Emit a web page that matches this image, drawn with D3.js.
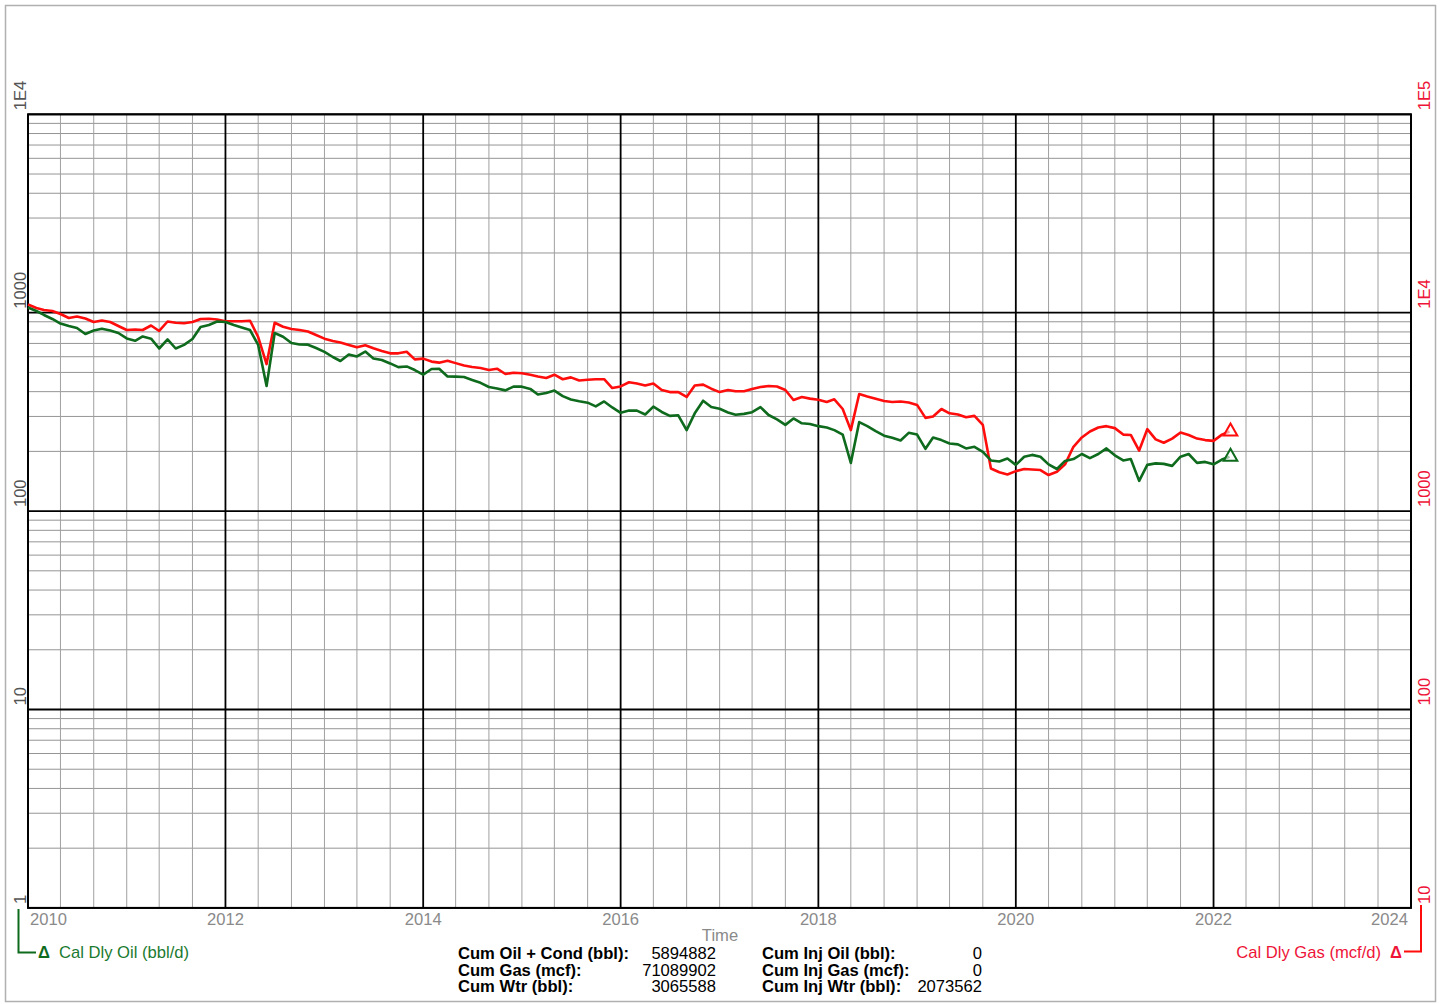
<!DOCTYPE html>
<html>
<head>
<meta charset="utf-8">
<script src="https://cdn.jsdelivr.net/npm/d3@7"></script>
<style>
  html, body { margin: 0; padding: 0; background: #fff; }
  svg { display: block; font-family: "Liberation Sans", Arial, sans-serif; }
</style>
</head>
<body>
<svg id="chart" width="1445" height="1004"></svg>
<script>
// Monthly calendar-day rates, first month January 2010
const startMonth = new Date(2010, 0, 1);

// Cal Dly Oil (bbl/d), left axis
const oilRate = [
  1062,1020,974,930,882,857,837,781,813,830,
  813,790,742,722,759,740,660,733,660,688,
  737,847,867,903,898,867,842,818,688,427,
  790,757,703,691,690,664,635,598,571,616,
  602,637,588,578,555,532,536,514,487,520,
  522,477,476,474,458,443,422,415,406,424,
  424,413,387,394,405,380,365,358,352,337,
  357,333,313,321,321,307,336,316,302,304,
  256,311,360,335,328,314,306,309,315,334,
  305,290,272,293,277,275,268,264,256,243,
  175,281,268,253,240,234,227,248,243,206,
  235,228,219,217,207,211,199,180,178,184,
  171,188,192,188,172,163,179,183,194,185,
  194,207,191,180,183,142,171,174,173,169,
  188,194,175,177,172,182,188
];

// Cal Dly Gas (mcf/d), right axis
const gasRate = [
  11000,10560,10320,10200,9850,9400,9570,9350,8980,9130,
  8980,8570,8180,8230,8180,8620,8090,9030,8900,8840,
  8980,9300,9330,9240,9050,9050,9050,9110,7540,5510,
  8900,8500,8280,8180,8040,7720,7400,7200,7080,6880,
  6690,6850,6620,6410,6240,6240,6360,5820,5870,5670,
  5600,5730,5570,5420,5330,5260,5140,5220,4910,4980,
  4950,4870,4770,4690,4870,4620,4720,4550,4590,4620,
  4620,4170,4250,4460,4400,4300,4400,4080,3980,3980,
  3760,4300,4340,4140,3980,4080,4020,4020,4130,4220,
  4270,4250,4080,3630,3760,3690,3640,3550,3660,3270,
  2560,3890,3780,3680,3590,3550,3570,3530,3430,2950,
  3000,3270,3110,3070,2970,3020,2720,1640,1570,1530,
  1590,1630,1620,1610,1520,1580,1720,2110,2350,2520,
  2640,2680,2620,2430,2420,2020,2590,2300,2210,2320,
  2490,2420,2320,2280,2260,2430,2520
];

// Axis ticks and labels
const yearTicks = [2010, 2012, 2014, 2016, 2018, 2020, 2022, 2024];
const oilTicks = [1, 10, 100, 1000, 10000];
const oilTickLabels = ["1", "10", "100", "1000", "1E4"];
const gasTicks = [10, 100, 1000, 10000, 100000];
const gasTickLabels = ["10", "100", "1000", "1E4", "1E5"];

// Cumulative summary
const cumLabels = ["Cum Oil + Cond (bbl):", "Cum Gas (mcf):", "Cum Wtr (bbl):"];
const cumValues = ["5894882", "71089902", "3065588"];
const injLabels = ["Cum Inj Oil (bbl):", "Cum Inj Gas (mcf):", "Cum Inj Wtr (bbl):"];
const injValues = ["0", "0", "2073562"];

const oilColor = "#0e6a1c";
const gasColor = "#ff0d0d";
const oilText = "#1a7a30";
const gasText = "#ee1438";
const FS = 16.6;

const svg = d3.select("#chart");
const W = 1445, H = 1004;
const plot = { left: 28, right: 1411, top: 114.3, bottom: 907.9 };

svg.append("rect").attr("width", W).attr("height", H).attr("fill", "#fff");
// outer frame
svg.append("rect")
  .attr("x", 5.5).attr("y", 5.5).attr("width", 1430).attr("height", 996)
  .attr("fill", "none").attr("stroke", "#b0b0b0").attr("stroke-width", 1.5);

const x = d3.scaleTime()
  .domain([new Date(2010, 0, 1), new Date(2024, 0, 1)])
  .range([plot.left, plot.right]);
const yOil = d3.scaleLog().domain([1, 1e4]).range([plot.bottom, plot.top]);
const yGas = d3.scaleLog().domain([10, 1e5]).range([plot.bottom, plot.top]);

const grid = svg.append("g");

// horizontal log grid: 2..9 minors gray, decades black
const minorVals = [];
for (let dec = 1; dec < 1e4; dec *= 10) {
  for (let k = 2; k <= 9; k++) minorVals.push(dec * k);
}
grid.selectAll("line.hmin").data(minorVals).join("line")
  .attr("x1", plot.left).attr("x2", plot.right)
  .attr("y1", d => yOil(d)).attr("y2", d => yOil(d))
  .attr("stroke", "#959595").attr("stroke-width", 1);

// vertical grid every four months
const monthLines = d3.timeMonth.every(4).range(new Date(2010, 0, 1), new Date(2024, 0, 2));
grid.selectAll("line.vmin").data(monthLines.filter(d => !(d.getMonth() === 0 && d.getFullYear() % 2 === 0))).join("line")
  .attr("x1", d => x(d)).attr("x2", d => x(d))
  .attr("y1", plot.top).attr("y2", plot.bottom)
  .attr("stroke", "#a0a0a0").attr("stroke-width", 1);

// major lines
grid.selectAll("line.hmaj").data(oilTicks).join("line")
  .attr("x1", plot.left).attr("x2", plot.right)
  .attr("y1", d => yOil(d)).attr("y2", d => yOil(d))
  .attr("stroke", "#000").attr("stroke-width", 1.8);
grid.selectAll("line.vmaj").data(yearTicks).join("line")
  .attr("x1", d => x(new Date(d, 0, 1))).attr("x2", d => x(new Date(d, 0, 1)))
  .attr("y1", plot.top).attr("y2", plot.bottom)
  .attr("stroke", "#000").attr("stroke-width", 1.8);

// plot frame
svg.append("rect")
  .attr("x", plot.left).attr("y", plot.top)
  .attr("width", plot.right - plot.left).attr("height", plot.bottom - plot.top)
  .attr("fill", "none").attr("stroke", "#000").attr("stroke-width", 2);

// series
const oilData = oilRate.map((v, i) => ({ date: d3.timeMonth.offset(startMonth, i), v }));
const gasData = gasRate.map((v, i) => ({ date: d3.timeMonth.offset(startMonth, i), v }));

svg.append("path").datum(gasData)
  .attr("fill", "none").attr("stroke", gasColor).attr("stroke-width", 2.6)
  .attr("stroke-linejoin", "round")
  .attr("d", d3.line().x(d => x(d.date)).y(d => yGas(d.v)));
svg.append("path").datum(oilData)
  .attr("fill", "none").attr("stroke", oilColor).attr("stroke-width", 2.6)
  .attr("stroke-linejoin", "round")
  .attr("d", d3.line().x(d => x(d.date)).y(d => yOil(d.v)));

// last-point triangle markers
const tri = d3.symbol().type(d3.symbolTriangle).size(80);
const lastGas = gasData[gasData.length - 1];
const lastOil = oilData[oilData.length - 1];
svg.append("path").attr("d", tri())
  .attr("transform", `translate(${x(lastGas.date) + 1},${yGas(lastGas.v)})`)
  .attr("fill", "#fff").attr("fill-opacity", 0.6).attr("stroke", gasColor).attr("stroke-width", 2);
svg.append("path").attr("d", tri())
  .attr("transform", `translate(${x(lastOil.date) + 1},${yOil(lastOil.v)})`)
  .attr("fill", "#fff").attr("fill-opacity", 0.6).attr("stroke", oilColor).attr("stroke-width", 2);

// left axis labels (rotated)
svg.selectAll("text.ly").data(oilTicks).join("text")
  .attr("transform", d => `translate(25.5,${yOil(d) - 4}) rotate(-90)`)
  .attr("text-anchor", "start")
  .attr("font-size", FS).attr("fill", "#555")
  .text((d, i) => oilTickLabels[i]);

// right axis labels (rotated)
svg.selectAll("text.ry").data(gasTicks).join("text")
  .attr("transform", d => `translate(1429.5,${yGas(d) - 4}) rotate(-90)`)
  .attr("text-anchor", "start")
  .attr("font-size", FS).attr("fill", gasText)
  .text((d, i) => gasTickLabels[i]);

// x tick labels
svg.selectAll("text.xt").data(yearTicks).join("text")
  .attr("x", (d, i) => x(new Date(d, 0, 1)) + (i === 0 ? 2 : i === yearTicks.length - 1 ? -3 : 0))
  .attr("y", 925)
  .attr("text-anchor", (d, i) => i === 0 ? "start" : i === yearTicks.length - 1 ? "end" : "middle")
  .attr("font-size", FS).attr("fill", "#8a8a8a")
  .text(d => d);

svg.append("text").attr("x", 720).attr("y", 941).attr("text-anchor", "middle")
  .attr("font-size", FS).attr("fill", "#8a8a8a").text("Time");

// legend brackets
svg.append("path")
  .attr("d", "M18.5,909 V952.5 H36")
  .attr("fill", "none").attr("stroke", oilColor).attr("stroke-width", 2);
svg.append("text").attr("x", 38).attr("y", 958)
  .attr("font-size", FS).attr("font-weight", "bold").attr("fill", oilColor).text("Δ");
svg.append("text").attr("x", 59).attr("y", 958)
  .attr("font-size", FS).attr("fill", oilText).text("Cal Dly Oil (bbl/d)");

svg.append("path")
  .attr("d", "M1421,905 V951.5 H1404")
  .attr("fill", "none").attr("stroke", gasColor).attr("stroke-width", 2);
svg.append("text").attr("x", 1402).attr("y", 958).attr("text-anchor", "end")
  .attr("font-size", FS).attr("font-weight", "bold").attr("fill", gasText).text("Δ");
svg.append("text").attr("x", 1381).attr("y", 958).attr("text-anchor", "end")
  .attr("font-size", FS).attr("fill", gasText).text("Cal Dly Gas (mcf/d)");

// cumulative summary block
const rowY = [959, 975.5, 992];
const stat = svg.append("g").attr("font-size", FS).attr("fill", "#000");
stat.selectAll("text.cl").data(cumLabels).join("text")
  .attr("x", 458).attr("y", (d, i) => rowY[i]).attr("font-weight", "bold").text(d => d);
stat.selectAll("text.cv").data(cumValues).join("text")
  .attr("x", 716).attr("y", (d, i) => rowY[i]).attr("text-anchor", "end").text(d => d);
stat.selectAll("text.il").data(injLabels).join("text")
  .attr("x", 762).attr("y", (d, i) => rowY[i]).attr("font-weight", "bold").text(d => d);
stat.selectAll("text.iv").data(injValues).join("text")
  .attr("x", 982).attr("y", (d, i) => rowY[i]).attr("text-anchor", "end").text(d => d);
</script>
</body>
</html>
